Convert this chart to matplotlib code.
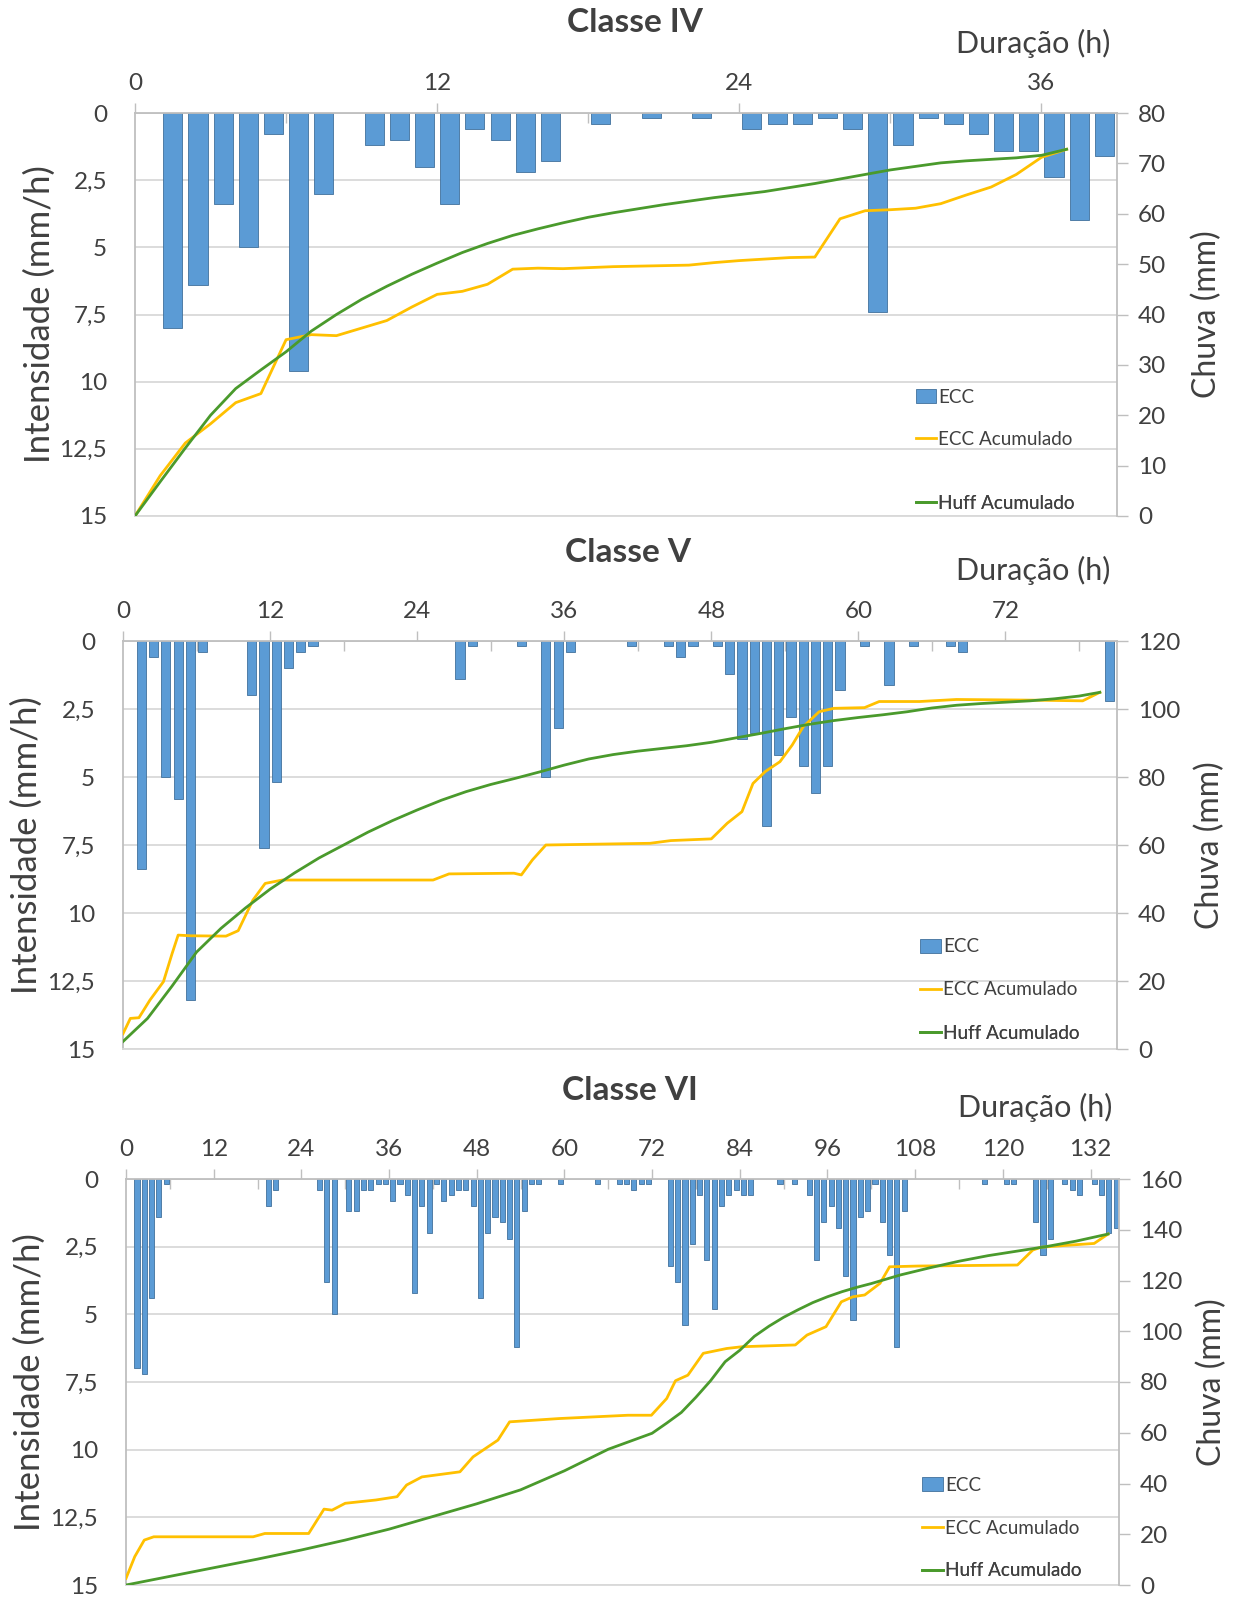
import matplotlib.pyplot as plt
from matplotlib.lines import Line2D
from matplotlib.patches import Patch
from matplotlib.ticker import FixedLocator, MultipleLocator

plt.rcParams['font.family'] = ['Lato', 'DejaVu Sans']

BLUE = '#5B9BD5'
BLUE_EDGE = '#41719C'
GOLD = '#FFC000'
GREEN = '#4A9A2C'
GRID = '#D9D9D9'
AXC = '#BFBFBF'
TXT = '#404040'

# ---------------- Classe IV ----------------
c4_bar_h = [1, 2, 3, 4, 5, 6, 7, 9, 10, 11, 12, 13, 14, 15, 16, 18, 20, 22,
            24, 25, 26, 27, 28, 29, 30, 31, 32, 33, 34, 35, 36, 37, 38]
c4_bar_v = [8.0, 6.4, 3.4, 5.0, 0.8, 9.6, 3.0, 1.2, 1.0, 2.0, 3.4, 0.6, 1.0, 2.2, 1.8, 0.4, 0.2, 0.2,
            0.6, 0.4, 0.4, 0.2, 0.6, 7.4, 1.2, 0.2, 0.4, 0.8, 1.4, 1.4, 2.4, 4.0, 1.6]
c4_line_h = list(range(38))
c4_ecc_acc = [0, 8.0, 14.5, 18.3, 22.5, 24.3, 35.0, 36.0, 35.8, 37.3, 38.8, 41.5, 44.0, 44.6,
              46.0, 49.0, 49.2, 49.1, 49.3, 49.5, 49.6, 49.7, 49.8, 50.3, 50.7, 51.0, 51.3, 51.4,
              59.0, 60.6, 60.8, 61.1, 62.0, 63.7, 65.3, 67.8, 71.2, 72.8]
c4_huff_acc = [0, 6.8, 13.5, 20.0, 25.3, 29.0, 32.6, 36.7, 40.0, 43.0, 45.6, 48.0, 50.2, 52.3,
               54.1, 55.7, 57.0, 58.2, 59.3, 60.2, 61.0, 61.8, 62.5, 63.2, 63.8, 64.4, 65.2, 66.0,
               66.9, 67.8, 68.7, 69.4, 70.1, 70.5, 70.8, 71.1, 71.6, 72.8]

# ---------------- Classe V ----------------
c5_bar_h = [1, 2, 3, 4, 5, 6, 10, 11, 12, 13, 14, 15, 27, 28, 32, 34, 35, 36, 41, 44, 45, 46,
            48, 49, 50, 51, 52, 53, 54, 55, 56, 57, 58, 60, 62, 64, 67, 68, 80]
c5_bar_v = [8.4, 0.6, 5.0, 5.8, 13.2, 0.4, 2.0, 7.6, 5.2, 1.0, 0.4, 0.2, 1.4, 0.2, 0.2, 5.0, 3.2, 0.4,
            0.2, 0.2, 0.6, 0.2, 0.2, 1.2, 3.6, 3.4, 6.8, 4.2, 2.8, 4.6, 5.6, 4.6, 1.8, 0.2, 1.6, 0.2,
            0.2, 0.4, 2.2]
c5_ecc_h = [0, 0.6, 1.3, 2.2, 3.3, 4.0, 4.5, 5.5, 8.4, 9.4, 10.6, 11.6, 13, 25.3, 26.6, 31.9,
            32.5, 33.4, 34.5, 43, 44.7, 48, 49.3, 50.5, 51.4, 52.4, 53.6, 54.6, 55.5, 56.8, 58,
            60.5, 61.7, 65, 68, 74.3, 78.3, 79.7]
c5_ecc_acc = [4.5, 9.0, 9.2, 14.4, 19.8, 28.0, 33.5, 33.3, 33.2, 34.8, 43.8, 48.7, 49.7, 49.7,
              51.5, 51.7, 51.2, 55.6, 60.0, 60.5, 61.3, 61.8, 66.4, 69.8, 78.1, 81.6, 84.5, 89.4,
              94.8, 99.2, 100.2, 100.4, 102.2, 102.2, 102.8, 102.6, 102.4, 104.9]
c5_huff_h = [0, 2, 4, 6, 8, 10, 12, 14, 16, 18, 20, 22, 24, 26, 28, 30, 32, 34, 36, 38, 40, 42,
             44, 46, 48, 50, 52, 54, 56, 58, 60, 62, 64, 66, 68, 70, 72, 74, 76, 78, 79.7]
c5_huff_acc = [2.2, 9.0, 18.5, 28.5, 35.5, 41.5, 47.0, 51.8, 56.2, 60.0, 63.8, 67.2, 70.3, 73.2,
               75.7, 77.8, 79.6, 81.5, 83.5, 85.3, 86.6, 87.6, 88.4, 89.2, 90.2, 91.5, 92.8, 94.2,
               95.5, 96.6, 97.5, 98.3, 99.2, 100.3, 101.1, 101.6, 102.0, 102.4, 103.0, 103.8, 104.9]

# ---------------- Classe VI ----------------
c6_bar_h = [1, 2, 3, 4, 5, 19, 20, 26, 27, 28, 30, 31, 32, 33, 34, 35, 36, 37, 38, 39, 40, 41,
            42, 43, 44, 45, 46, 47, 48, 49, 50, 51, 52, 53, 54, 55, 56, 59, 64, 67, 68, 69, 70,
            71, 74, 75, 76, 77, 78, 79, 80, 81, 82, 83, 84, 85, 89, 91, 93, 94, 95, 96, 97, 98,
            99, 100, 101, 102, 103, 104, 105, 106, 117, 120, 121, 124, 125, 126, 128, 129, 130,
            132, 133, 134, 135]
c6_bar_v = [7.0, 7.2, 4.4, 1.4, 0.2, 1.0, 0.4, 0.4, 3.8, 5.0, 1.2, 1.2, 0.4, 0.4, 0.2, 0.2, 0.8,
            0.2, 0.6, 4.2, 1.0, 2.0, 0.2, 0.8, 0.6, 0.4, 0.4, 1.0, 4.4, 2.0, 1.4, 1.6, 2.2, 6.2,
            1.2, 0.2, 0.2, 0.2, 0.2, 0.2, 0.2, 0.4, 0.2, 0.2, 3.2, 3.8, 5.4, 2.4, 0.6, 3.0, 4.8,
            1.0, 0.6, 0.4, 0.6, 0.6, 0.2, 0.2, 0.6, 3.0, 1.6, 1.0, 1.8, 3.6, 5.2, 1.4, 1.2, 0.2,
            1.6, 2.8, 6.2, 1.2, 0.2, 0.2, 0.2, 1.6, 2.8, 2.2, 0.2, 0.4, 0.6, 0.2, 0.6, 2.0, 1.8]
c6_ecc_h = [0, 1.2, 2.5, 3.8, 17.4, 19.0, 25.0, 27.1, 28.2, 30.0, 34.2, 37.1, 38.4, 40.5, 45.7,
            47.5, 50.9, 52.5, 59.3, 68.7, 71.9, 74.0, 75.2, 76.9, 79.0, 82.2, 84.3, 91.6, 93.2,
            95.8, 97.9, 99.5, 101.1, 103.2, 104.5, 108.4, 122.0, 124.1, 125.2, 129.4, 132.5, 134.4]
c6_ecc_acc = [2.6, 11.2, 17.7, 19.0, 19.0, 20.3, 20.3, 29.9, 29.5, 32.2, 33.5, 34.8, 39.4, 42.6,
              44.6, 50.5, 57.1, 64.3, 65.6, 66.9, 66.9, 73.5, 80.5, 82.7, 91.3, 93.2, 93.9, 94.6,
              98.5, 101.8, 111.6, 113.6, 114.3, 118.9, 125.4, 125.7, 126.1, 132.0, 133.1, 134.0,
              134.6, 138.3]
c6_huff_h = [0, 6, 12, 18, 24, 30, 36, 42, 48, 54, 60, 66, 72, 74, 76, 78, 80, 82, 84, 86, 88,
             90, 92, 94, 96, 98, 100, 102, 104, 106, 110, 114, 118, 122, 126, 130, 134.4]
c6_huff_acc = [0, 3.4, 6.8, 10.2, 13.8, 17.7, 22.0, 27.0, 32.0, 37.5, 45.0, 53.5, 59.8, 63.8,
               68.0, 74.0, 80.5, 88.0, 92.5, 98.0, 102.0, 105.5, 108.5, 111.3, 113.6, 115.6,
               117.3, 118.8, 120.5, 122.2, 125.0, 127.6, 129.8, 131.6, 133.4, 135.5, 138.3]

W, H = 1243, 1600


def frac_rect(left, right, top, bottom):
    return [left / W, 1 - bottom / H, (right - left) / W, (bottom - top) / H]


def panel(fig, px, title, title_xy, dur_xy, ylab_x, rlab_x,
          bar_h, bar_v, ecc_h, ecc_v, huff_h, huff_v, xmax, rmax, rstep, bw, leg_x, leg_ys):
    ax = fig.add_axes(frac_rect(*px))
    ax.bar([h + 0.5 for h in bar_h], bar_v, width=bw, color=BLUE, edgecolor=BLUE_EDGE,
           linewidth=0.6, zorder=2)
    ax.set_xlim(0, xmax)
    ax.set_ylim(15, 0)
    ax.yaxis.set_major_locator(FixedLocator([0, 2.5, 5, 7.5, 10, 12.5, 15]))
    ax.set_yticklabels(['0', '2,5', '5', '7,5', '10', '12,5', '15'])
    ax.grid(axis='y', color=GRID, linewidth=1.3, zorder=0)
    ax.set_axisbelow(True)
    ax.xaxis.tick_top()
    ax.xaxis.set_major_locator(MultipleLocator(12))
    ax.xaxis.set_minor_locator(FixedLocator(list(range(6, int(xmax) + 1, 12))))
    ax.tick_params(axis='x', which='major', direction='out', length=7, width=1, color=AXC,
                   labelsize=17.5, labelcolor=TXT, pad=7)
    ax.tick_params(axis='x', which='minor', direction='in', length=7, width=1, color=AXC)
    ax.tick_params(axis='y', length=0, labelsize=17.5, labelcolor=TXT, pad=20)
    for s in ['left', 'top']:
        ax.spines[s].set_color(AXC)
        ax.spines[s].set_linewidth(1.3)
    ax.spines['bottom'].set_color(GRID)
    ax.spines['bottom'].set_linewidth(1.3)
    ax.spines['right'].set_visible(False)

    ax2 = ax.twinx()
    ax2.plot(ecc_h, ecc_v, color=GOLD, linewidth=2, zorder=3)
    ax2.plot(huff_h, huff_v, color=GREEN, linewidth=2, zorder=3)
    ax2.set_ylim(0, rmax)
    ax2.yaxis.set_major_locator(MultipleLocator(rstep))
    ax2.tick_params(axis='y', direction='out', length=8, width=1, color=AXC,
                    labelsize=17.5, labelcolor=TXT, pad=7)
    for s in ['left', 'top', 'bottom']:
        ax2.spines[s].set_visible(False)
    ax2.spines['right'].set_color(AXC)
    ax2.spines['right'].set_linewidth(1.3)

    handles = [Patch(facecolor=BLUE, edgecolor=BLUE_EDGE, linewidth=0.6),
               Line2D([], [], color=GOLD, linewidth=2),
               Line2D([], [], color=GREEN, linewidth=2)]
    labels = ['ECC', 'ECC Acumulado', 'Huff Acumulado']
    for hnd, lab, yy in zip(handles, labels, leg_ys):
        leg = ax2.legend([hnd], [lab], loc='center left', bbox_to_anchor=(leg_x, yy),
                         frameon=False, borderpad=0, borderaxespad=0, handlelength=1.1,
                         handleheight=0.7, handletextpad=0.1, prop={'size': 13.6})
        for t in leg.get_texts():
            t.set_color(TXT)
        ax2.add_artist(leg)

    fig.text(title_xy[0] / W, 1 - title_xy[1] / H, title, ha='center', va='center',
             fontsize=24, fontweight='bold', color=TXT)
    fig.text(dur_xy[0] / W, 1 - dur_xy[1] / H, 'Duração (h)', ha='right', va='center',
             fontsize=22, color=TXT)
    ymid = 1 - (px[2] + px[3]) / 2 / H
    fig.text(ylab_x / W, ymid, 'Intensidade (mm/h)', rotation=90, ha='center', va='center',
             fontsize=25, color=TXT)
    fig.text(rlab_x / W, ymid, 'Chuva (mm)', rotation=90, ha='center', va='center',
             fontsize=23, color=TXT)


fig = plt.figure(figsize=(W / 100, H / 100), dpi=100)

panel(fig, (135, 1117, 113, 516), 'Classe IV', (635, 22), (1110, 43), 40, 1207,
      c4_bar_h, c4_bar_v, c4_line_h, c4_ecc_acc, c4_line_h, c4_huff_acc,
      39.0, 80, 10, 0.76, 0.795, [0.295, 0.191, 0.032])
panel(fig, (123, 1117, 641, 1049), 'Classe V', (628, 553), (1110, 570), 27, 1210,
      c5_bar_h, c5_bar_v, c5_ecc_h, c5_ecc_acc, c5_huff_h, c5_huff_acc,
      81.1, 120, 20, 0.75, 0.802, [0.250, 0.145, 0.038])
panel(fig, (126, 1119, 1179, 1585), 'Classe VI', (630, 1090), (1112, 1107), 30, 1212,
      c6_bar_h, c6_bar_v, c6_ecc_h, c6_ecc_acc, c6_huff_h, c6_huff_acc,
      135.9, 160, 20, 0.7, 0.802, [0.246, 0.140, 0.035])

fig.savefig('out.png', dpi=100)
